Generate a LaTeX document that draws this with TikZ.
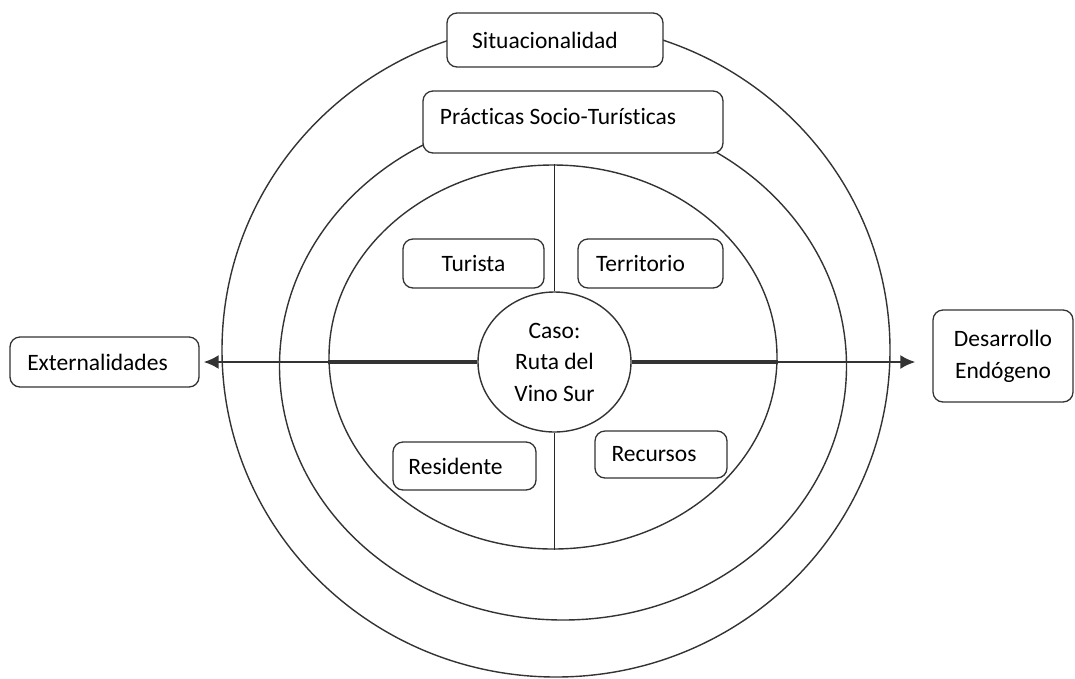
\documentclass[tikz,border=0pt]{standalone}
\usepackage{fontspec}
\setmainfont{Carlito}[Ligatures=NoCommon]
\usepackage{xcolor}
\usetikzlibrary{shapes.geometric}
\usetikzlibrary{arrows.meta}
\definecolor{linegray}{rgb}{0.2,0.2,0.2}
\newcommand{\padright}[1]{\rule{#1}{0pt}}
\begin{document}
\begin{tikzpicture}[x=1pt,y=-1pt,
  ring/.style={ellipse,draw=linegray,line width=1.4pt,inner sep=0pt},
  label box/.style={rectangle,draw=linegray,line width=1.3pt,rounded corners=10pt,fill=white,inner sep=0pt,font=\fontsize{23.5}{32}\selectfont},
  axis arrow/.style={draw=linegray,line width=2.2pt,-{Latex[length=15pt,width=14pt]}}]
 \useasboundingbox (0,0) rectangle (1075,678);
 % rings
 \node[ring,minimum width=668,minimum height=654] (outer) at (556,350) {};
 \node[ring,minimum width=567,minimum height=508] (middle) at (563,366) {};
 \node[ring,minimum width=448,minimum height=384] (inner) at (553,357) {};
 \node[ring,fill=white,minimum width=153,minimum height=140,align=center,font=\fontsize{23.5}{31.5}\selectfont] (caso) at (554.5,362) {Caso:\\Ruta del\\Vino Sur};
 % quadrants
 \draw[draw=black!85,line width=1.3pt] (caso.north) -- (caso.north |- inner.north);
 \draw[draw=black!85,line width=1.3pt] (caso.south) -- (caso.south |- inner.south);
 \draw[draw=linegray,line width=3.6pt] (caso.west) -- (caso.west -| inner.west);
 \draw[draw=linegray,line width=3.6pt] (caso.east) -- (caso.east -| inner.east);
 % boxes
 \node[label box,minimum width=216,minimum height=54] (sit) at (555,40) {Situacionalidad\padright{20pt}};
 \node[label box,minimum width=300,minimum height=62] (prac) at (573,122) {Prácticas Socio-Turísticas\padright{30pt}\rule[-11pt]{0pt}{11pt}};
 \node[label box,minimum width=141,minimum height=49] (turista) at (473.5,263.5) {Turista};
 \node[label box,minimum width=145,minimum height=49] (territorio) at (650.5,263.5) {Territorio\padright{20pt}};
 \node[label box,minimum width=143,minimum height=48] (residente) at (464.5,466) {Residente\padright{18pt}};
 \node[label box,minimum width=132,minimum height=47] (recursos) at (661,454.5) {Recursos\padright{14pt}};
 \node[label box,minimum width=189,minimum height=50] (ext) at (104.5,362) {Externalidades\padright{14pt}};
 \node[label box,minimum width=140,minimum height=92,align=center] (des) at (1003,356) {Desarrollo\\Endógeno};
 % axis
 \draw[axis arrow,shorten >=4pt] (caso.west) -- (caso.west -| ext.east);
 \draw[axis arrow,shorten >=17pt] (caso.east) -- (caso.east -| des.west);
\end{tikzpicture}
\end{document}
